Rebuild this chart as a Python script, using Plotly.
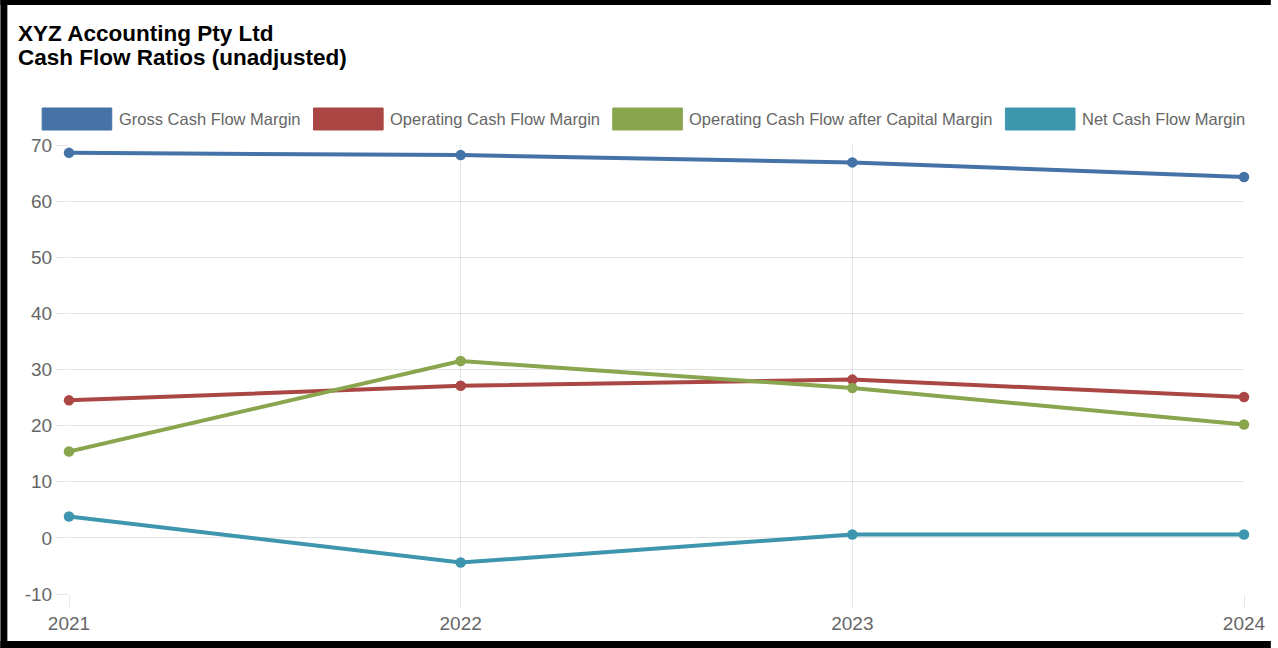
import plotly.graph_objects as go

# Cash flow ratios (%) per financial year
years = [2021, 2022, 2023, 2024]
series_names = [
    "Gross Cash Flow Margin",
    "Operating Cash Flow Margin",
    "Operating Cash Flow after Capital Margin",
    "Net Cash Flow Margin",
]
gross_cfm = [68.6, 68.2, 66.9, 64.3]
operating_cfm = [24.5, 27.1, 28.2, 25.1]
operating_after_capital = [15.4, 31.5, 26.7, 20.2]
net_cfm = [3.8, -4.4, 0.6, 0.6]
y_ticks = [-10, 0, 10, 20, 30, 40, 50, 60, 70]

series_values = [gross_cfm, operating_cfm, operating_after_capital, net_cfm]
colors = ["#4572A7", "#AA4643", "#89A54E", "#3D96AE"]

W, H = 1278, 648
L, R, T, B = 69, 27, 145, 54
PW, PH = W - L - R, H - T - B


def px_x(px):
    return (px - L) / PW


def px_y(py):
    return (H - B - py) / PH


fig = go.Figure()
for name, vals, col in zip(series_names, series_values, colors):
    fig.add_trace(go.Scatter(
        x=years, y=vals, name=name, mode="lines+markers",
        line=dict(color=col, width=4),
        marker=dict(color=col, size=10.5),
        cliponaxis=False,
    ))

shapes = []
annotations = []

# custom legend: wide colour swatches with grey labels
legend_box_left = [42, 315, 616, 1011]
for name, col, bx in zip(series_names, colors, legend_box_left):
    shapes.append(dict(
        type="rect", xref="paper", yref="paper",
        x0=px_x(bx), x1=px_x(bx + 70), y0=px_y(130), y1=px_y(108),
        fillcolor=col, line=dict(color=col, width=1), layer="above",
    ))
    annotations.append(dict(
        text=name, xref="paper", yref="paper",
        x=px_x(bx + 75), y=px_y(119), xanchor="left", yanchor="middle",
        showarrow=False,
        font=dict(family="Liberation Sans, Arial", size=16.5, color="#666666"),
    ))

# title lines
annotations.append(dict(
    text="<b>XYZ Accounting Pty Ltd</b>", xref="paper", yref="paper",
    x=px_x(16), y=px_y(34), xanchor="left", yanchor="middle", showarrow=False,
    font=dict(family="Liberation Sans, Arial", size=22.5, color="#000000"),
))
annotations.append(dict(
    text="<b>Cash Flow Ratios (unadjusted)</b>", xref="paper", yref="paper",
    x=px_x(16), y=px_y(58), xanchor="left", yanchor="middle", showarrow=False,
    font=dict(family="Liberation Sans, Arial", size=22.5, color="#000000"),
))

# black frame on left, top and bottom edges
for x0, x1, y0, y1 in [(0, 7, 0, H), (0, W, 0, 5), (0, W, 641, H)]:
    shapes.append(dict(
        type="rect", xref="paper", yref="paper",
        x0=px_x(x0), x1=px_x(x1), y0=px_y(y1), y1=px_y(y0),
        fillcolor="#000000", line=dict(width=0), layer="above",
    ))

grid_col = "rgba(0,0,0,0.1)"
fig.update_layout(
    width=W, height=H,
    margin=dict(l=L, r=R, t=T, b=B),
    paper_bgcolor="white", plot_bgcolor="white",
    showlegend=False,
    shapes=shapes, annotations=annotations,
    xaxis=dict(
        range=[2021, 2024], tickvals=years, ticktext=[str(y) for y in years],
        showgrid=True, gridcolor=grid_col, gridwidth=1,
        ticks="outside", ticklen=12, tickcolor=grid_col,
        showline=False, zeroline=False,
        tickfont=dict(family="Liberation Sans, Arial", size=19, color="#666666"),
    ),
    yaxis=dict(
        range=[-10, 70], tickvals=y_ticks, ticktext=[str(v) for v in y_ticks],
        showgrid=True, gridcolor=grid_col, gridwidth=1,
        ticks="outside", ticklen=12, tickcolor=grid_col,
        showline=False, zeroline=False,
        tickfont=dict(family="Liberation Sans, Arial", size=19, color="#666666"),
    ),
)

fig.write_html("out.html")
